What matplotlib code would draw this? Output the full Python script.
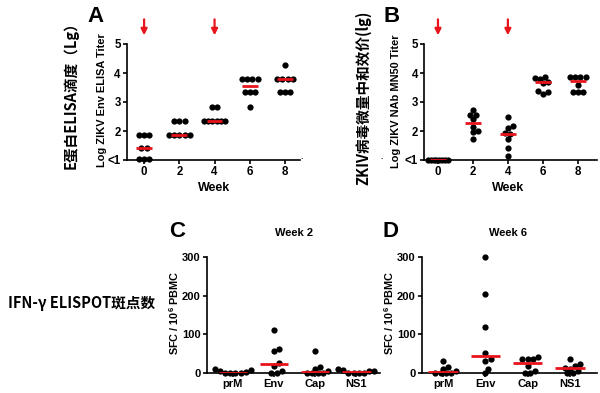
import numpy as np
import matplotlib
matplotlib.use('Agg')
import matplotlib.pyplot as plt

plt.rcParams['font.family'] = ['Liberation Sans', 'DejaVu Sans']
plt.rcParams['font.weight'] = 'bold'
plt.rcParams['mathtext.fontset'] = 'custom'
plt.rcParams['mathtext.rm'] = 'Liberation Sans:bold'
plt.rcParams['mathtext.default'] = 'rm'

RED = '#e8141c'
CJK = ['Noto Sans CJK SC', 'DejaVu Sans']

# ---------------------------------------------------------------------------
# data
# ---------------------------------------------------------------------------
WEEKS = [0, 2, 4, 6, 8]
IMMUNIZE_WEEKS = [0, 4]
Y_TICKS = [1, 2, 3, 4, 5]
Y_TICK_LABELS = ['<1', '2', '3', '4', '5']

ELISA = [
    [1.87, 1.87, 1.87, 1.40, 1.40, 1.03, 1.03, 1.03],
    [2.36, 2.36, 2.36, 1.87, 1.87, 1.87, 1.87, 1.87],
    [2.83, 2.83, 2.35, 2.35, 2.35, 2.35, 2.35, 2.35],
    [3.79, 3.79, 3.79, 3.79, 3.33, 3.33, 3.33, 2.83],
    [4.28, 3.79, 3.79, 3.79, 3.79, 3.33, 3.33, 3.33],
]
NAB = [
    [1.0, 1.0, 1.0, 1.0, 1.0, 1.0, 1.0, 1.0],
    [2.72, 2.56, 2.56, 2.41, 2.15, 2.01, 1.95, 1.72],
    [2.47, 2.17, 2.12, 1.92, 1.88, 1.72, 1.41, 1.15],
    [3.85, 3.83, 3.80, 3.70, 3.65, 3.38, 3.35, 3.28],
    [3.87, 3.87, 3.87, 3.87, 3.59, 3.33, 3.33, 3.33],
]

ANTIGENS = ['prM', 'Env', 'Cap', 'NS1']
SFC_WK2 = [
    [0, 0, 0, 0, 2, 5, 9, 10],
    [111, 61, 56, 26, 18, 5, 0, 0],
    [56, 16, 11, 5, 0, 0, 0, 0],
    [10, 8, 5, 5, 0, 0, 0, 0],
]
SFC_WK6 = [
    [30, 16, 11, 5, 0, 0, 0, 0],
    [300, 205, 120, 52, 36, 30, 11, 0],
    [42, 36, 36, 36, 17, 4, 0, 0],
    [36, 22, 17, 13, 11, 5, 0, 0],
]


def swarm_offsets(vals, ypx, d=5.2, max_row=21.0):
    """x offsets in pixels so dots don't overlap (simple greedy swarm)."""
    vals = np.asarray(vals, float)
    offs = np.zeros(len(vals))
    placed = []
    shifts = [0.0] + [s * j * d / 2 for j in range(1, 30) for s in (1, -1)]
    for v in sorted(set(vals)):
        idx = np.where(vals == v)[0]
        k = len(idx)
        step = min(d, max_row / (k - 1)) if k > 1 else d
        base = (np.arange(k) - (k - 1) / 2) * step
        y = v * ypx
        for s in shifts:
            xs = base + s
            if all((x - px) ** 2 + (y - py) ** 2 >= (0.9 * d) ** 2
                   for x in xs for px, py in placed):
                break
        offs[idx] = xs
        placed += [(x, y) for x in xs]
    return offs


def dot_panel(ax, positions, groups, xpx, ypx, half):
    for p, g in zip(positions, groups):
        g = np.asarray(g, float)
        offs = swarm_offsets(g, ypx)
        ax.plot(p + offs / xpx, g, 'o', color='black', ms=4.5, mec='none',
                clip_on=False, zorder=3)
        ax.hlines(np.median(g), p - half, p + half, color=RED, lw=2.0, zorder=4)


def style(ax, size=8.3):
    for s in ('top', 'right'):
        ax.spines[s].set_visible(False)
    for s in ('left', 'bottom'):
        ax.spines[s].set_linewidth(1.2)
    ax.tick_params(width=1.2, length=3, labelsize=size, pad=1.5)


W, H = 600, 393
fig = plt.figure(figsize=(6, 3.93), dpi=100)


def fx(x):
    return x / W


def fy(y):
    return 1 - y / H


def rect(l, r, t, b):
    return [fx(l), fy(b), fx(r) - fx(l), fy(t) - fy(b)]


axA = fig.add_axes(rect(127, 300, 44, 160))
axB = fig.add_axes(rect(424, 597, 44, 160))
axC = fig.add_axes(rect(207, 380, 257, 373))
axD = fig.add_axes(rect(422, 597, 257, 373))

# --- A / B : titers ---------------------------------------------------------
for ax, data, xlim in [(axA, ELISA, (-0.97, 8.85)), (axB, NAB, (-0.8, 9.1))]:
    dot_panel(ax, WEEKS, data, 17.6, 29.0, 0.45)
    ax.set_xlim(*xlim)
    ax.set_ylim(1, 5)
    ax.set_xticks(WEEKS)
    ax.set_yticks(Y_TICKS)
    ax.set_yticklabels(Y_TICK_LABELS)
    style(ax)
    for w in IMMUNIZE_WEEKS:
        ax.annotate('', xy=(w, 5.3), xytext=(w, 5.85), annotation_clip=False,
                    arrowprops=dict(arrowstyle='-|>', color=RED, lw=1.6,
                                    mutation_scale=9, shrinkA=0, shrinkB=0))

# --- C / D : ELISPOT --------------------------------------------------------
x_ag = np.arange(len(ANTIGENS))
for ax, data, xpx, xlim in [(axC, SFC_WK2, 41.0, (-0.63, 3.58)),
                            (axD, SFC_WK6, 42.3, (-0.5, 3.64))]:
    dot_panel(ax, x_ag, data, xpx, 0.387, 0.35)
    ax.set_xlim(*xlim)
    ax.set_ylim(0, 300)
    ax.set_xticks(x_ag)
    ax.set_xticklabels(ANTIGENS)
    ax.set_yticks([0, 100, 200, 300])
    style(ax, 8.0)

# --- text -------------------------------------------------------------------
fig.text(fx(95), fy(16), 'A', fontsize=16, ha='center', va='center')
fig.text(fx(392), fy(16), 'B', fontsize=16, ha='center', va='center')
fig.text(fx(177), fy(232), 'C', fontsize=16, ha='center', va='center')
fig.text(fx(391), fy(232), 'D', fontsize=16, ha='center', va='center')

fig.text(fx(102), fy(100), 'Log ZIKV Env ELISA Titer', fontsize=7.9,
         rotation=90, ha='center', va='center')
fig.text(fx(396), fy(101), 'Log ZIKV NAb MN50 Titer', fontsize=7.9,
         rotation=90, ha='center', va='center')
fig.text(fx(214), fy(188), 'Week', fontsize=9, ha='center', va='center')
fig.text(fx(508), fy(188), 'Week', fontsize=9, ha='center', va='center')

fig.text(fx(71), fy(92), 'E蛋白ELISA滴度（Lg）', family=CJK, fontsize=10.5,
         rotation=90, ha='center', va='center')
fig.text(fx(363), fy(98), 'ZKIV病毒微量中和效价(lg)', family=CJK, fontsize=10.5,
         rotation=90, ha='center', va='center')
fig.text(fx(302), fy(158), '.', fontsize=6, ha='center', va='center')
fig.text(fx(382), fy(158), '.', fontsize=6, ha='center', va='center')

fig.text(fx(294), fy(233), 'Week 2', fontsize=8, ha='center', va='center')
fig.text(fx(508), fy(233), 'Week 6', fontsize=8, ha='center', va='center')
fig.text(fx(174), fy(313), r'SFC / 10$^{6}$ PBMC', fontsize=7.8,
         rotation=90, ha='center', va='center')
fig.text(fx(389), fy(313), r'SFC / 10$^{6}$ PBMC', fontsize=7.8,
         rotation=90, ha='center', va='center')
fig.text(fx(8), fy(303), 'IFN-γ ELISPOT斑点数', family=CJK, fontsize=10.5,
         ha='left', va='center')

fig.savefig('out.png', dpi=100)
